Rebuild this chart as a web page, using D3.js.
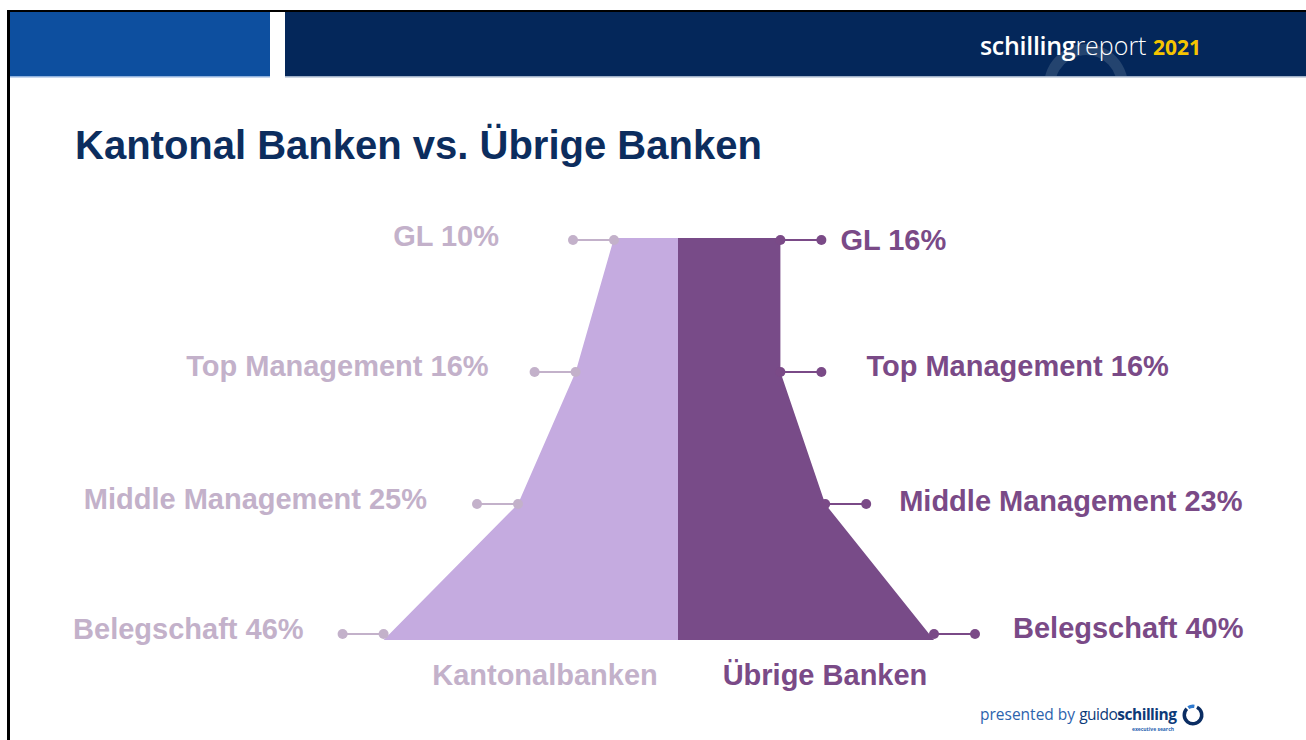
<!DOCTYPE html>
<html>
<head>
<meta charset="utf-8">
<script src="https://cdn.jsdelivr.net/npm/d3@7/dist/d3.min.js"></script>
<style>
  html, body { margin: 0; padding: 0; background: #ffffff; }
  svg { display: block; }
</style>
</head>
<body>
<div id="chart"></div>
<script>
// Share of women per hierarchy level, cantonal banks vs. other banks
const levels = ["GL", "Top Management", "Middle Management", "Belegschaft"];
const kantonalValues = [10, 16, 25, 46];
const uebrigeValues = [16, 16, 23, 40];
const groupNames = ["Kantonalbanken", "Übrige Banken"];
const titleText = "Kantonal Banken vs. Übrige Banken";

// Manual label placement (horizontal gap from the outer dot, vertical nudge)
const leftLabelLayout = [
  { dx: -74, dy: -4 }, { dx: -46, dy: -6 }, { dx: -50, dy: -5 }, { dx: -39, dy: -5 }
];
const rightLabelLayout = [
  { dx: 19, dy: 0 }, { dx: 45, dy: -6 }, { dx: 33, dy: -3 }, { dx: 38, dy: -6 }
];

const W = 1306, H = 740;
const colors = {
  leftFill: "#c5abe0",
  rightFill: "#784b88",
  leftInk: "#c3b1ca",
  rightInk: "#7a4a87",
  title: "#0c2d5e"
};
const FONT = "'Liberation Sans', Arial, sans-serif";
const LABEL_SIZE = 29;

const svg = d3.select("#chart").append("svg")
  .attr("width", W).attr("height", H);

// ---- slide frame and header band ----
svg.append("rect").attr("x", 7).attr("y", 10).attr("width", W).attr("height", H)
  .attr("fill", "#000");
svg.append("rect").attr("x", 10).attr("y", 12).attr("width", W).attr("height", H)
  .attr("fill", "#fff");
svg.append("rect").attr("x", 10).attr("y", 12).attr("width", 260).attr("height", 64)
  .attr("fill", "#0d4f9f");
svg.append("rect").attr("x", 285).attr("y", 12).attr("width", W - 285).attr("height", 64)
  .attr("fill", "#04275a");
svg.append("rect").attr("x", 10).attr("y", 76).attr("width", 260).attr("height", 1.5)
  .attr("fill", "#8fb2de");
svg.append("rect").attr("x", 285).attr("y", 76).attr("width", W - 285).attr("height", 1.5)
  .attr("fill", "#9fb0c8");

// decorative arc behind the report name
svg.append("clipPath").attr("id", "hdrClip")
  .append("rect").attr("x", 285).attr("y", 12).attr("width", W - 285).attr("height", 64);
svg.append("g").attr("clip-path", "url(#hdrClip)")
  .append("path")
  .attr("d", d3.arc().innerRadius(31).outerRadius(42)
    .startAngle(-Math.PI * 0.62).endAngle(Math.PI * 0.55)())
  .attr("transform", "translate(1086,86)")
  .attr("fill", "#24446f");

const brand = svg.append("text")
  .attr("x", 980).attr("y", 55)
  .attr("font-family", "'Open Sans', 'Noto Sans', sans-serif")
  .attr("font-size", 25).attr("fill", "#ffffff");
brand.append("tspan").attr("font-weight", 600).attr("letter-spacing", -0.3).text("schilling");
brand.append("tspan").attr("font-weight", 300).text("report ");
brand.append("tspan").attr("font-weight", 700).attr("fill", "#f5c400")
  .attr("font-size", 21).text("2021");

// ---- title ----
svg.append("text")
  .attr("x", 75).attr("y", 159)
  .attr("font-family", FONT).attr("font-weight", 700)
  .attr("font-size", 40).attr("fill", colors.title)
  .text(titleText);

// ---- scales ----
const cx = 678;
const pxPerPct = 6.4;
const xLeft = d3.scaleLinear().domain([0, 50]).range([cx, cx - 50 * pxPerPct]);
const xRight = d3.scaleLinear().domain([0, 50]).range([cx, cx + 50 * pxPerPct]);
const y = d3.scalePoint().domain(levels).range([240, 636]);
const yTop = y(levels[0]) - 2;
const yBottom = y(levels[levels.length - 1]) + 4;

// ---- funnel halves ----
function halfShape(values, xs) {
  const pts = [[xs(0), yTop], [xs(values[0]), yTop]];
  values.forEach((v, i) => {
    if (i === 0) return;
    const yy = i === values.length - 1 ? yBottom : y(levels[i]);
    pts.push([xs(v), yy]);
  });
  pts.push([xs(0), yBottom]);
  return pts;
}
const line = d3.line();
svg.append("path")
  .attr("d", line(halfShape(kantonalValues, xLeft)) + "Z")
  .attr("fill", colors.leftFill);
svg.append("path")
  .attr("d", line(halfShape(uebrigeValues, xRight)) + "Z")
  .attr("fill", colors.rightFill);

// ---- connectors with dots and labels ----
const reach = 41;
function connectors(values, xs, dir, ink, layout) {
  const g = svg.append("g");
  values.forEach((v, i) => {
    const yy = y(levels[i]) + (i === values.length - 1 ? -2 : 0);
    const x0 = xs(v), x1 = x0 + dir * reach;
    g.append("line").attr("x1", x0).attr("x2", x1).attr("y1", yy).attr("y2", yy)
      .attr("stroke", ink).attr("stroke-width", 2);
    g.append("circle").attr("cx", x0).attr("cy", yy).attr("r", 5).attr("fill", ink);
    g.append("circle").attr("cx", x1).attr("cy", yy).attr("r", 5).attr("fill", ink);
    g.append("text")
      .attr("x", x1 + layout[i].dx).attr("y", yy + layout[i].dy)
      .attr("dominant-baseline", "central")
      .attr("text-anchor", dir < 0 ? "end" : "start")
      .attr("font-family", FONT).attr("font-weight", 700)
      .attr("font-size", LABEL_SIZE).attr("fill", ink)
      .text(`${levels[i]} ${v}%`);
  });
}
connectors(kantonalValues, xLeft, -1, colors.leftInk, leftLabelLayout);
connectors(uebrigeValues, xRight, 1, colors.rightInk, rightLabelLayout);

// ---- group names under the funnel ----
svg.append("text")
  .attr("x", 545).attr("y", 685).attr("text-anchor", "middle")
  .attr("font-family", FONT).attr("font-weight", 700)
  .attr("font-size", LABEL_SIZE).attr("fill", colors.leftInk)
  .text(groupNames[0]);
svg.append("text")
  .attr("x", 825).attr("y", 685).attr("text-anchor", "middle")
  .attr("font-family", FONT).attr("font-weight", 700)
  .attr("font-size", LABEL_SIZE).attr("fill", colors.rightInk)
  .text(groupNames[1]);

// ---- footer ----
const foot = svg.append("text").attr("x", 980).attr("y", 720)
  .attr("font-family", "'Open Sans', 'Noto Sans', sans-serif").attr("font-size", 15.5);
foot.append("tspan").attr("fill", "#2d63ad").text("presented by ");
foot.append("tspan").attr("fill", "#0d3a78").attr("letter-spacing", -0.5).text("guido");
foot.append("tspan").attr("fill", "#0d3a78").attr("font-weight", 700)
  .attr("letter-spacing", -0.5).text("schilling");
svg.append("text").attr("x", 1174).attr("y", 731).attr("text-anchor", "end")
  .attr("font-family", "'Open Sans', sans-serif").attr("font-size", 5)
  .attr("font-weight", 700).attr("fill", "#1f5fb0").text("executive search");
const ring = d3.arc().innerRadius(7).outerRadius(10.5);
svg.append("path")
  .attr("d", ring({ startAngle: Math.PI * 0.15, endAngle: Math.PI * 1.75 }))
  .attr("transform", "translate(1193,715)").attr("fill", "#0b2d63");
svg.append("path")
  .attr("d", ring({ startAngle: Math.PI * 1.82, endAngle: Math.PI * 2.05 }))
  .attr("transform", "translate(1193,715)").attr("fill", "#2f7ad0");
</script>
</body>
</html>
